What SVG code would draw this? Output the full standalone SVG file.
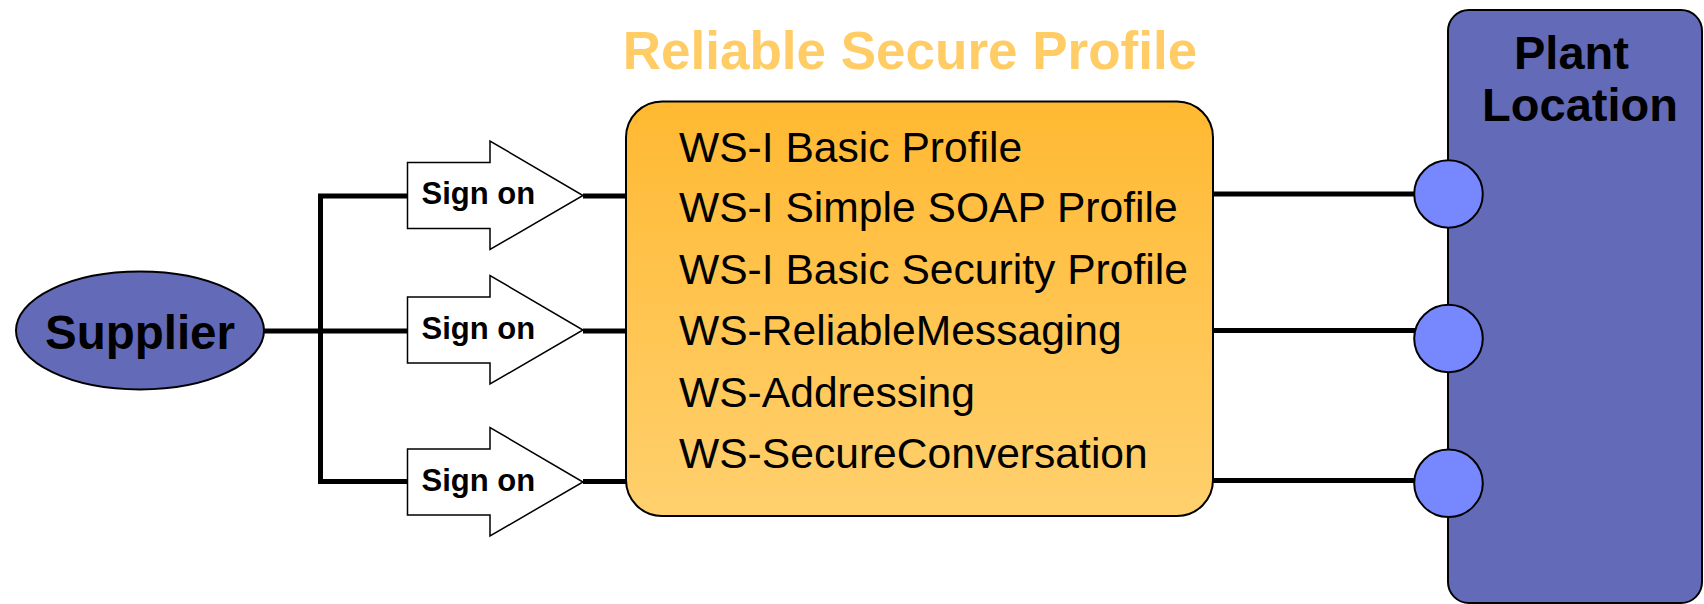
<svg xmlns="http://www.w3.org/2000/svg" width="1704" height="604" viewBox="0 0 1704 604">
  <style>
    .wire { fill: none; stroke: #000; stroke-width: 5; }
    .arrow { fill: #fff; stroke: #000; stroke-width: 1.5; }
    .port { fill: #7788ff; stroke: #000; stroke-width: 2; }
    .blue { fill: #636bb8; stroke: #000; stroke-width: 2; }
    .bold { font-family: "Liberation Sans", Arial, sans-serif; font-weight: bold; fill: #000; }
    .item { font-family: "Liberation Sans", Arial, sans-serif; font-size: 42.6px; fill: #000; }
    .sign { font-size: 31px; }
  </style>
  <defs>
    <linearGradient id="orange" x1="0" y1="0" x2="0" y2="1">
      <stop offset="0" stop-color="#ffb932"/>
      <stop offset="1" stop-color="#ffd06e"/>
    </linearGradient>
    <!-- block arrow, centred vertically on y=0 -->
    <path id="blockArrow" d="M407.5,-33 H490 V-54.5 L583,0 L490,54 V33 H407.5 Z"/>
  </defs>

  <!-- connectors -->
  <g id="connectors">
    <path class="wire" d="M264,331 H320.5"/>
    <path class="wire" d="M320.5,196 V481.5"/>
    <path class="wire" d="M318,196 H408"/>
    <path class="wire" d="M320.5,331 H408"/>
    <path class="wire" d="M318,481.5 H408"/>
    <path class="wire" d="M583,196 H627"/>
    <path class="wire" d="M583,331 H627"/>
    <path class="wire" d="M583,481.5 H627"/>
    <path class="wire" d="M1212,194 H1415"/>
    <path class="wire" d="M1212,330.5 H1415"/>
    <path class="wire" d="M1212,480.5 H1415"/>
  </g>

  <!-- title -->
  <text class="bold" x="910" y="68.5" font-size="53" text-anchor="middle" style="fill:#ffcc66">Reliable Secure Profile</text>

  <g id="supplier">
    <ellipse class="blue" cx="140" cy="330.5" rx="124" ry="59"/>
    <text class="bold" x="140" y="348.5" font-size="47.5" text-anchor="middle">Supplier</text>
  </g>

  <g id="signon1">
    <use href="#blockArrow" class="arrow" transform="translate(0,195.5)"/>
    <text class="bold sign" x="421.5" y="204">Sign on</text>
  </g>
  <g id="signon2">
    <use href="#blockArrow" class="arrow" transform="translate(0,330)"/>
    <text class="bold sign" x="421.5" y="338.5">Sign on</text>
  </g>
  <g id="signon3">
    <use href="#blockArrow" class="arrow" transform="translate(0,482)"/>
    <text class="bold sign" x="421.5" y="490.5">Sign on</text>
  </g>

  <g id="profile">
    <rect x="626" y="101.5" width="587" height="414.5" rx="36" ry="36" fill="url(#orange)" stroke="#000" stroke-width="2"/>
    <text class="item" x="679" y="161.5">WS-I Basic Profile</text>
    <text class="item" x="679" y="222">WS-I Simple SOAP Profile</text>
    <text class="item" x="679" y="283.5">WS-I Basic Security Profile</text>
    <text class="item" x="679" y="345">WS-ReliableMessaging</text>
    <text class="item" x="679" y="406.5">WS-Addressing</text>
    <text class="item" x="679" y="468">WS-SecureConversation</text>
  </g>

  <g id="plant">
    <rect class="blue" x="1448" y="10" width="254" height="593" rx="21" ry="21"/>
    <text class="bold" font-size="47" text-anchor="middle">
      <tspan x="1578" y="68.5">Plant</tspan>
      <tspan x="1580" y="120.5">Location</tspan>
    </text>
  </g>

  <g id="port1"><ellipse class="port" cx="1448.5" cy="194" rx="34.3" ry="33.7"/></g>
  <g id="port2"><ellipse class="port" cx="1448.5" cy="338.5" rx="34.3" ry="33.7"/></g>
  <g id="port3"><ellipse class="port" cx="1448.5" cy="483.3" rx="34.3" ry="33.7"/></g>
</svg>
